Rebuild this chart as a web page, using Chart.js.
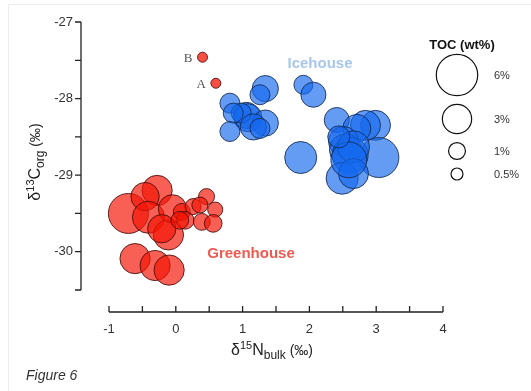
<!DOCTYPE html>
<html>
<head>
<meta charset="utf-8">
<title>Figure 6</title>
<script src="https://cdn.jsdelivr.net/npm/chart.js@4/dist/chart.umd.min.js"></script>
<style>
  html, body { margin: 0; padding: 0; background: #fff; }
  #wrap { width: 531px; height: 391px; }
</style>
</head>
<body>
<div id="wrap"><canvas id="chart" width="531" height="391"></canvas></div>
<script>
// Greenhouse samples: d15N bulk, d13C org, TOC (wt%)
const greenX = [-0.71, -0.28, -0.46, -0.41, -0.11, -0.05, -0.21, -0.61, -0.31, -0.10,
                0.09, 0.14, 0.26, 0.46, 0.59, 0.39, 0.56, 0.06, 0.36];
const greenY = [-29.50, -29.20, -29.28, -29.55, -29.78, -29.44, -29.70, -30.09, -30.18, -30.24,
                -29.48, -29.59, -29.41, -29.28, -29.45, -29.61, -29.63, -29.59, -29.39];
const greenToc = [5.6, 3.2, 2.8, 3.6, 3.2, 2.8, 2.8, 3.2, 3.2, 3.2,
                  1.0, 1.1, 0.9, 0.9, 0.8, 1.0, 1.1, 1.1, 0.9];

// Icehouse samples
const iceX = [1.34, 1.26, 0.81, 1.06, 1.08, 0.98, 0.86, 1.34, 0.81, 1.16, 1.26,
              1.91, 2.06, 2.41, 2.99, 2.84, 2.71, 1.87, 3.04, 2.51, 2.54, 2.61, 2.66, 2.49, 2.66, 2.59, 2.44];
const iceY = [-27.87, -27.95, -28.06, -28.22, -28.25, -28.19, -28.19, -28.32, -28.43, -28.37, -28.39,
              -27.82, -27.95, -28.28, -28.35, -28.35, -28.39, -28.77, -28.77, -28.56, -28.67, -28.74, -28.63, -29.04, -28.98, -28.80, -28.50];
const iceToc = [2.4, 1.4, 1.4, 2.4, 2.75, 1.4, 1.4, 2.4, 1.4, 2.4, 1.4,
                1.26, 2.2, 2.2, 3.15, 3.15, 2.75, 3.6, 5.6, 3.15, 3.6, 4.5, 3.6, 3.6, 3.15, 4.5, 1.7];

// Samples A and B
const markNames = ['A', 'B'];
const markX = [0.60, 0.40];
const markY = [-27.80, -27.46];
const markToc = [0.35, 0.35];

// axis ticks and size legend
const xTicks = [-1, 0, 1, 2, 3, 4];
const yTicks = [-27, -28, -29, -30];
const tocLegend = [6, 3, 1, 0.5];

// bubble radius in px, area proportional to TOC
function tocRadius(toc) {
    return 8.45 * Math.sqrt(toc);
}

function toPoints(xs, ys, tocs) {
    return xs.map((x, i) => ({ x: x, y: ys[i], r: tocRadius(tocs[i]) }));
}

const FONT = 'Helvetica, Arial, "Liberation Sans", sans-serif';

function drawRich(ctx, parts, cx, baseY) {
    let total = 0;
    parts.forEach(p => {
        ctx.font = p.font;
        p.w = ctx.measureText(p.t).width;
        total += p.w;
    });
    let x = cx - total / 2;
    ctx.textAlign = 'left';
    ctx.textBaseline = 'alphabetic';
    parts.forEach(p => {
        ctx.font = p.font;
        ctx.fillText(p.t, x, baseY + (p.dy || 0));
        x += p.w;
    });
}

// detached axes, labels and TOC legend
const decorations = {
    id: 'decorations',
    afterDraw(chart) {
        const ctx = chart.ctx;
        const xs = chart.scales.x;
        const ys = chart.scales.y;
        ctx.save();

        // faint page frame
        ctx.strokeStyle = '#ededed';
        ctx.lineWidth = 1;
        ctx.beginPath();
        ctx.moveTo(8.5, 391);
        ctx.lineTo(8.5, 4.5);
        ctx.lineTo(531, 4.5);
        ctx.stroke();

        ctx.strokeStyle = '#222';
        ctx.fillStyle = '#333';
        ctx.lineWidth = 1.3;

        // y axis
        const axX = 81;
        ctx.beginPath();
        ctx.moveTo(axX, ys.getPixelForValue(-27));
        ctx.lineTo(axX, ys.getPixelForValue(-30.5));
        for (let v = -27; v >= -30.5; v -= 0.5) {
            const py = ys.getPixelForValue(v);
            ctx.moveTo(axX, py);
            ctx.lineTo(axX - 6, py);
        }
        ctx.stroke();
        ctx.font = '13px ' + FONT;
        ctx.textAlign = 'right';
        ctx.textBaseline = 'middle';
        yTicks.forEach(v => ctx.fillText(String(v), axX - 8, ys.getPixelForValue(v)));

        // x axis
        const axY = 312;
        ctx.beginPath();
        ctx.moveTo(xs.getPixelForValue(-1), axY);
        ctx.lineTo(xs.getPixelForValue(4), axY);
        for (let v = -1; v <= 4; v += 0.5) {
            const px = xs.getPixelForValue(v);
            ctx.moveTo(px, axY);
            ctx.lineTo(px, axY - 6);
        }
        ctx.stroke();
        ctx.textAlign = 'center';
        ctx.textBaseline = 'middle';
        xTicks.forEach(v => ctx.fillText(String(v), xs.getPixelForValue(v), 329));

        // axis titles
        ctx.fillStyle = '#222';
        drawRich(ctx, [
            { t: 'δ', font: '16px ' + FONT },
            { t: '15', font: '11px ' + FONT, dy: -6 },
            { t: 'N', font: '16px ' + FONT },
            { t: 'bulk', font: '12px ' + FONT, dy: 4 },
            { t: ' (‰)', font: '14px ' + FONT }
        ], 272, 355);

        ctx.save();
        ctx.translate(40, 162);
        ctx.rotate(-Math.PI / 2);
        drawRich(ctx, [
            { t: 'δ', font: '16px ' + FONT },
            { t: '13', font: '11px ' + FONT, dy: -6 },
            { t: 'C', font: '16px ' + FONT },
            { t: 'org', font: '12px ' + FONT, dy: 4 },
            { t: ' (‰)', font: '14px ' + FONT }
        ], 0, 0);
        ctx.restore();

        // group labels
        ctx.font = 'bold 15px ' + FONT;
        ctx.textAlign = 'center';
        ctx.textBaseline = 'middle';
        ctx.fillStyle = '#a7c7ee';
        ctx.fillText('Icehouse', 320, 64);
        ctx.fillStyle = '#ef5a50';
        ctx.fillText('Greenhouse', 251, 254);

        // sample labels
        ctx.font = '13px "Liberation Serif", "Times New Roman", serif';
        ctx.fillStyle = '#555';
        ctx.textAlign = 'right';
        markNames.forEach((name, i) => {
            const px = xs.getPixelForValue(markX[i]);
            const py = ys.getPixelForValue(markY[i]);
            ctx.fillText(name, px - 10, py + 1);
        });

        // TOC legend
        ctx.fillStyle = '#111';
        ctx.font = 'bold 13px ' + FONT;
        ctx.textAlign = 'center';
        ctx.fillText('TOC (wt%)', 462, 45);
        const legY = [75, 119, 151, 174];
        ctx.strokeStyle = '#111';
        ctx.lineWidth = 1.2;
        ctx.font = '11px ' + FONT;
        tocLegend.forEach((toc, i) => {
            ctx.beginPath();
            ctx.arc(457, legY[i], tocRadius(toc), 0, Math.PI * 2);
            ctx.stroke();
            ctx.fillStyle = '#333';
            ctx.textAlign = 'left';
            ctx.fillText(toc + '%', 494, legY[i] + 1);
        });

        // caption
        ctx.font = 'italic 14px ' + FONT;
        ctx.fillStyle = '#333';
        ctx.textAlign = 'left';
        ctx.fillText('Figure 6', 26, 376);

        ctx.restore();
    }
};

new Chart(document.getElementById('chart'), {
    type: 'bubble',
    data: {
        datasets: [
            {
                label: 'Greenhouse',
                data: toPoints(greenX, greenY, greenToc),
                backgroundColor: 'rgba(245, 20, 5, 0.68)',
                borderColor: 'rgba(70, 10, 10, 0.85)',
                borderWidth: 1,
                clip: false
            },
            {
                label: 'Icehouse',
                data: toPoints(iceX, iceY, iceToc),
                backgroundColor: 'rgba(20, 105, 238, 0.66)',
                borderColor: 'rgba(20, 40, 80, 0.85)',
                borderWidth: 1,
                clip: false
            },
            {
                label: 'A, B',
                data: toPoints(markX, markY, markToc),
                backgroundColor: 'rgba(245, 20, 5, 0.75)',
                borderColor: 'rgba(70, 10, 10, 0.85)',
                borderWidth: 1,
                clip: false
            }
        ]
    },
    options: {
        responsive: false,
        animation: false,
        layout: { padding: { left: 109, right: 88, top: 22, bottom: 101 } },
        scales: {
            x: { type: 'linear', min: -1, max: 4, display: false },
            y: { type: 'linear', min: -30.5, max: -27, display: false }
        },
        plugins: {
            legend: { display: false },
            tooltip: { enabled: false }
        }
    },
    plugins: [decorations]
});
</script>
</body>
</html>
